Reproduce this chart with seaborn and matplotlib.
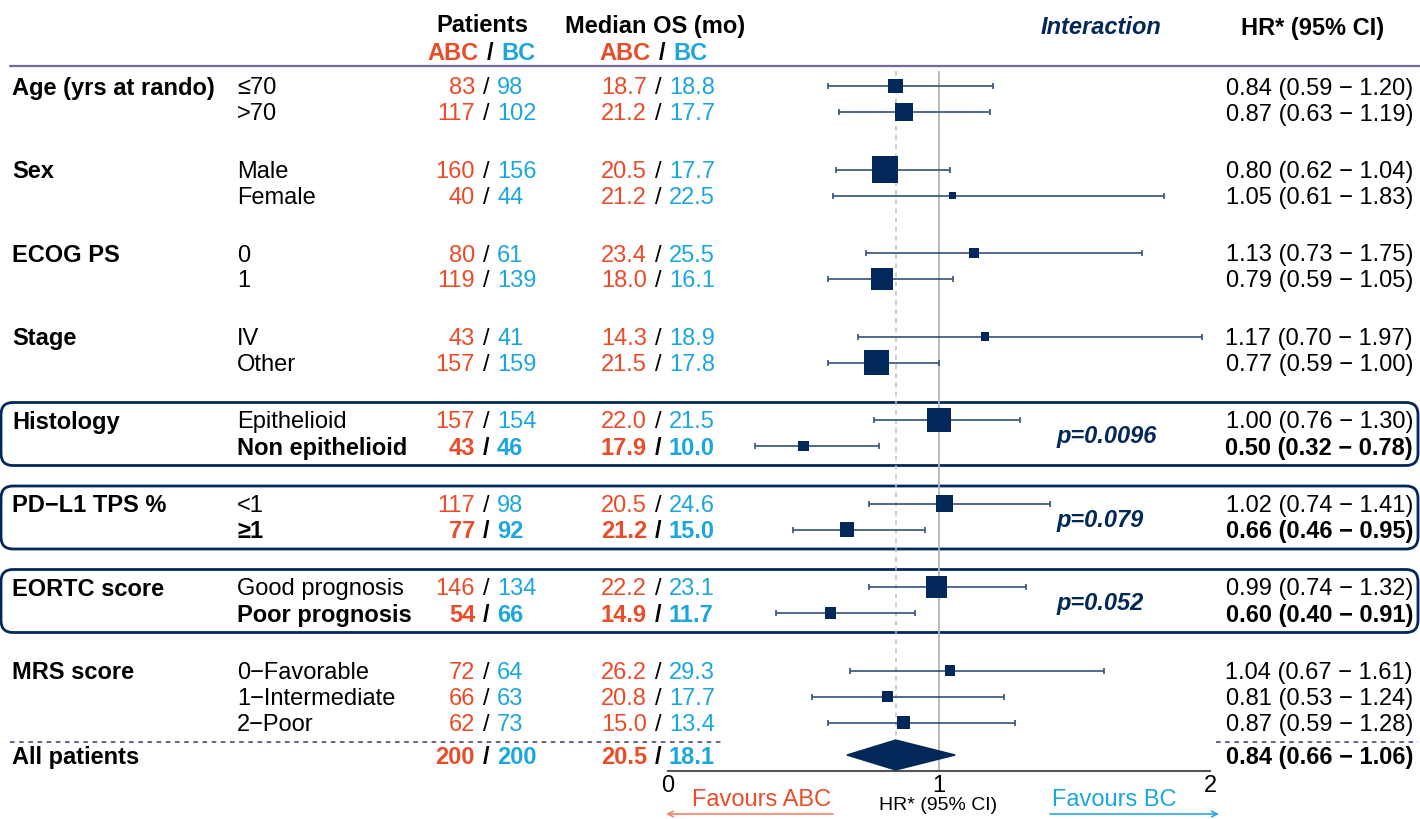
import numpy as np
import pandas as pd
import matplotlib
matplotlib.use("Agg")
import matplotlib.pyplot as plt
from matplotlib.patches import FancyBboxPatch, Polygon
import seaborn as sns

# ---- data -----------------------------------------------------------------
group_names = ["Age (yrs at rando)", "Sex", "ECOG PS", "Stage", "Histology",
               "PD\u2212L1 TPS %", "EORTC score", "MRS score"]
group_counts = [2, 2, 2, 2, 2, 2, 2, 3]
interaction_p = [None, None, None, None, "p=0.0096", "p=0.079", "p=0.052", None]
boxed_groups = [False, False, False, False, True, True, True, False]

subgroups = ["\u226470", ">70", "Male", "Female", "0", "1", "IV", "Other",
             "Epithelioid", "Non epithelioid", "<1", "\u22651",
             "Good prognosis", "Poor prognosis",
             "0\u2212Favorable", "1\u2212Intermediate", "2\u2212Poor"]
highlight = [False, False, False, False, False, False, False, False,
             False, True, False, True, False, True, False, False, False]
n_abc = [83, 117, 160, 40, 80, 119, 43, 157, 157, 43, 117, 77, 146, 54, 72, 66, 62]
n_bc = [98, 102, 156, 44, 61, 139, 41, 159, 154, 46, 98, 92, 134, 66, 64, 63, 73]
os_abc = [18.7, 21.2, 20.5, 21.2, 23.4, 18.0, 14.3, 21.5, 22.0, 17.9, 20.5, 21.2,
          22.2, 14.9, 26.2, 20.8, 15.0]
os_bc = [18.8, 17.7, 17.7, 22.5, 25.5, 16.1, 18.9, 17.8, 21.5, 10.0, 24.6, 15.0,
         23.1, 11.7, 29.3, 17.7, 13.4]
hr = [0.84, 0.87, 0.80, 1.05, 1.13, 0.79, 1.17, 0.77, 1.00, 0.50, 1.02, 0.66,
      0.99, 0.60, 1.04, 0.81, 0.87]
hr_lo = [0.59, 0.63, 0.62, 0.61, 0.73, 0.59, 0.70, 0.59, 0.76, 0.32, 0.74, 0.46,
         0.74, 0.40, 0.67, 0.53, 0.59]
hr_hi = [1.20, 1.19, 1.04, 1.83, 1.75, 1.05, 1.97, 1.00, 1.30, 0.78, 1.41, 0.95,
         1.32, 0.91, 1.61, 1.24, 1.28]

overall_label = "All patients"
overall_n = (200, 200)
overall_os = (20.5, 18.1)
overall_hr = (0.84, 0.66, 1.06)

axis_ticks = [0, 1, 2]

# ---- style ----------------------------------------------------------------
ORANGE = "#EB4B27"
BLUE = "#1CA6E0"
NAVY = "#012858"
CI_COLOR = "#34507A"
FS = 17

sns.set_style("white")
plt.rcParams["font.family"] = ["Liberation Sans", "DejaVu Sans"]
plt.rcParams["text.color"] = "black"
plt.rcParams["xtick.color"] = "black"

W, H = 1420, 820
fig = plt.figure(figsize=(W / 100, H / 100), dpi=100)
fig.patch.set_facecolor("white")

# full-figure canvas for the table text (pixel units, y downwards)
tx = fig.add_axes([0, 0, 1, 1])
tx.set_xlim(0, W)
tx.set_ylim(H, 0)
tx.axis("off")

# forest panel: HR scale 0..2, same row units as the table
X0, X1 = 668, 1210
fx = fig.add_axes([X0 / W, 0, (X1 - X0) / W, 1])
fx.patch.set_alpha(0)

# ---- row layout -------------------------------------------------------------
ROW_TOP, PITCH, GROUP_GAP, OVERALL_GAP = 87, 26, 57.5, 32.5
row_y = []
group_y = []
y = ROW_TOP
for gi, cnt in enumerate(group_counts):
    if gi > 0:
        y = row_y[-1] + GROUP_GAP
    group_y.append(y)
    for k in range(cnt):
        row_y.append(y + k * PITCH)
overall_y = row_y[-1] + OVERALL_GAP
AXIS_Y = overall_y + 16
TXT_DY = 1.5   # optical centring of text on a row

COL_GROUP, COL_SUB = 12, 237
COL_PAT, COL_OS = 486, 658
COL_HR_RIGHT = 1413
COL_P = 1057
SLASH_GAP = 11


def pair_text(xc, y, a, b, bold):
    w = "bold" if bold else "normal"
    tx.text(xc - SLASH_GAP, y, a, ha="right", va="center", color=ORANGE,
            fontsize=FS, fontweight=w)
    tx.text(xc, y, "/", ha="center", va="center", color="black",
            fontsize=FS, fontweight=w)
    tx.text(xc + SLASH_GAP, y, b, ha="left", va="center", color=BLUE,
            fontsize=FS, fontweight=w)


# ---- header -----------------------------------------------------------------
tx.text(482, 26, "Patients", ha="center", va="center", fontsize=FS, fontweight="bold")
tx.text(655, 26, "Median OS (mo)", ha="center", va="center", fontsize=FS, fontweight="bold")
pair_text(COL_PAT + 4, 54, "ABC", "BC", True)
pair_text(COL_OS + 4, 54, "ABC", "BC", True)
tx.text(1101, 28, "Interaction", ha="center", va="center", fontsize=FS,
        fontweight="bold", fontstyle="italic", color=NAVY)
tx.text(1313, 28, "HR* (95% CI)", ha="center", va="center", fontsize=FS,
        fontweight="bold")
tx.plot([10, W], [67, 67], color="#6F6E98", lw=1.6)

# ---- table rows -------------------------------------------------------------
for gi, name in enumerate(group_names):
    tx.text(COL_GROUP, group_y[gi] + TXT_DY, name, ha="left", va="center",
            fontsize=FS, fontweight="bold")

first = 0
for gi, cnt in enumerate(group_counts):
    ys = row_y[first:first + cnt]
    if boxed_groups[gi]:
        box = FancyBboxPatch((1, ys[0] - 17.5), W - 3, ys[-1] - ys[0] + 37,
                             boxstyle="round,pad=0,rounding_size=12",
                             fc="none", ec=NAVY, lw=2.0, zorder=1)
        tx.add_patch(box)
    if interaction_p[gi]:
        tx.text(COL_P, (ys[0] + ys[-1]) / 2 + 3, interaction_p[gi], ha="left",
                va="center", fontsize=FS, fontweight="bold", fontstyle="italic",
                color=NAVY)
    first += cnt

for i, lab in enumerate(subgroups):
    yy = row_y[i] + TXT_DY
    b = highlight[i]
    w = "bold" if b else "normal"
    tx.text(COL_SUB, yy, lab, ha="left", va="center", fontsize=FS, fontweight=w)
    pair_text(COL_PAT, yy, f"{n_abc[i]}", f"{n_bc[i]}", b)
    pair_text(COL_OS, yy, f"{os_abc[i]:.1f}", f"{os_bc[i]:.1f}", b)
    tx.text(COL_HR_RIGHT, yy, f"{hr[i]:.2f} ({hr_lo[i]:.2f} \u2212 {hr_hi[i]:.2f})",
            ha="right", va="center", fontsize=FS, fontweight=w)

# overall row
oy = overall_y + TXT_DY
tx.text(COL_GROUP, oy, overall_label, ha="left", va="center",
        fontsize=FS, fontweight="bold")
pair_text(COL_PAT, oy, f"{overall_n[0]}", f"{overall_n[1]}", True)
pair_text(COL_OS, oy, f"{overall_os[0]:.1f}", f"{overall_os[1]:.1f}", True)
tx.text(COL_HR_RIGHT, oy,
        f"{overall_hr[0]:.2f} ({overall_hr[1]:.2f} \u2212 {overall_hr[2]:.2f})",
        ha="right", va="center", fontsize=FS, fontweight="bold")
sep_y = overall_y - 13
tx.plot([10, 725], [sep_y, sep_y], color="#3B3B6B", lw=1.1, dashes=(3, 3))
tx.plot([1216, 1418], [sep_y, sep_y], color="#3B3B6B", lw=1.1, dashes=(3, 3))

# ---- forest panel -----------------------------------------------------------
df = pd.DataFrame({"hr": hr, "lo": hr_lo, "hi": hr_hi, "y": row_y})
se = (np.log(df["hi"]) - np.log(df["lo"])) / (2 * 1.96)
weight = 1.0 / se ** 2
side_px = 2.0 + 0.42 * weight                # square side grows with precision
df["area"] = (side_px * 0.72) ** 2
amin, amax = df["area"].min(), df["area"].max()

fx.vlines(1.0, 72, AXIS_Y, color="#B5B5B5", lw=1.3, zorder=1)
fx.vlines(overall_hr[0], 72, AXIS_Y, color="#BDBDBD", lw=1.1,
          linestyles=(0, (3, 3)), zorder=1)

fx.errorbar(df["hr"], df["y"], xerr=[df["hr"] - df["lo"], df["hi"] - df["hr"]],
            fmt="none", ecolor=CI_COLOR, elinewidth=1.2, capsize=2.3,
            capthick=1.2, zorder=2)
sns.scatterplot(data=df, x="hr", y="y", size="area", sizes=(amin, amax),
                size_norm=(amin, amax), marker="s", color=NAVY, linewidth=0,
                legend=False, ax=fx, zorder=3)

hr0, lo0, hi0 = overall_hr
diamond = Polygon([(lo0, overall_y), (hr0, overall_y - 15), (hi0, overall_y),
                   (hr0, overall_y + 15)], closed=True, fc=NAVY, ec=NAVY, zorder=3)
fx.add_patch(diamond)

fx.set_xlim(axis_ticks[0], axis_ticks[-1])
fx.set_ylim(H, 0)
fx.set_xlabel("")
fx.set_ylabel("")
fx.set_yticks([])
for side in ("left", "right", "top"):
    fx.spines[side].set_visible(False)
fx.spines["bottom"].set_position(("data", AXIS_Y))
fx.spines["bottom"].set_color("#555555")
fx.spines["bottom"].set_linewidth(1.5)
fx.set_xticks(axis_ticks)
fx.set_xticklabels([str(t) for t in axis_ticks], fontsize=FS)
fx.tick_params(axis="x", length=0, pad=2, colors="black")

# direction labels under the axis
tx.text(762, 800, "Favours ABC", ha="center", va="center", fontsize=FS, color=ORANGE)
tx.text(1114, 800, "Favours BC", ha="center", va="center", fontsize=FS, color=BLUE)
tx.text(938, 806, "HR* (95% CI)", ha="center", va="center", fontsize=14)
tx.annotate("", xy=(666, 815), xytext=(833, 815),
            arrowprops=dict(arrowstyle="->", color="#F28468", lw=1.2,
                            shrinkA=0, shrinkB=0, mutation_scale=10))
tx.annotate("", xy=(1219, 815), xytext=(1050, 815),
            arrowprops=dict(arrowstyle="->", color="#2AAAE2", lw=1.2,
                            shrinkA=0, shrinkB=0, mutation_scale=10))

fig.savefig("out.png", dpi=100, facecolor="white")
